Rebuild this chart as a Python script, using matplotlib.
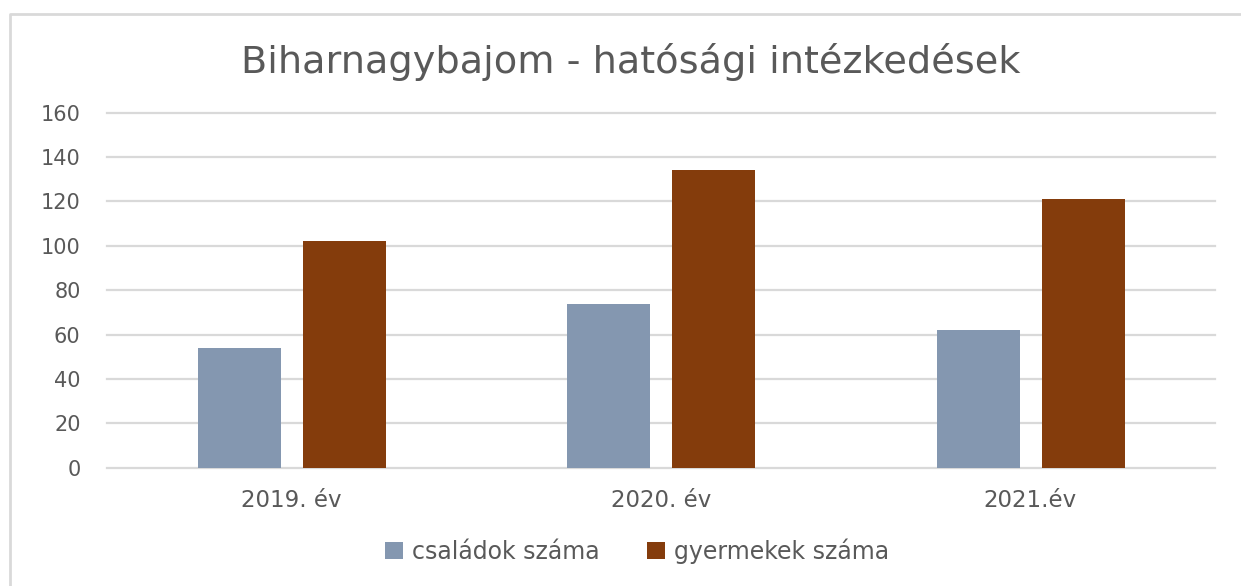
import matplotlib.pyplot as plt
import numpy as np
from matplotlib.lines import Line2D

# chart data
years = ["2019. év", "2020. év", "2021.év"]
csaladok = [54, 74, 62]
gyermekek = [102, 134, 121]

plt.rcParams['font.family'] = ['DejaVu Sans']

fig = plt.figure(figsize=(12.41, 5.86), dpi=100)
ax = fig.add_axes([107 / 1241, 1 - 467.7 / 586, 1108 / 1241, (467.7 - 112.7) / 586])

# outer chart frame: only left and top edges are inside the picture
fx, fy = 10 / 1241, 1 - 14 / 586
fig.add_artist(Line2D([fx, fx, 1.0], [0.0, fy, fy], transform=fig.transFigure,
                      color="#d9d9d9", linewidth=2))

x = np.arange(len(years))
w = 0.225
ax.bar(x - 0.141, csaladok, w, color="#8497b0", label="családok száma", zorder=3)
ax.bar(x + 0.143, gyermekek, w, color="#843c0c", label="gyermekek száma", zorder=3)

ax.set_xlim(-0.5, 2.5)
ax.set_ylim(0, 160)
ax.set_yticks(range(0, 161, 20))
ax.set_xticks(x)
ax.set_xticklabels(years)
ax.yaxis.grid(True, color="#d9d9d9", linewidth=1.6, zorder=0)
for gl in ax.get_ygridlines():
    gl.set_clip_on(False)
for s in ax.spines.values():
    s.set_visible(False)
ax.tick_params(axis="both", length=0, labelsize=15, labelcolor="#595959")
ax.tick_params(axis="x", labelsize=16.5, pad=15)
ax.tick_params(axis="y", pad=19)

fig.text(631 / 1241, 1 - 62 / 586, "Biharnagybajom - hatósági intézkedések",
         ha="center", va="center", fontsize=27.5, color="#595959")

fig.legend(loc="center", bbox_to_anchor=(637 / 1241, 1 - 551 / 586), ncol=2,
           frameon=False, fontsize=17, labelcolor="#595959",
           handlelength=0.75, handleheight=0.75, columnspacing=2.0, handletextpad=0.4)

fig.savefig("out.png", dpi=100)
